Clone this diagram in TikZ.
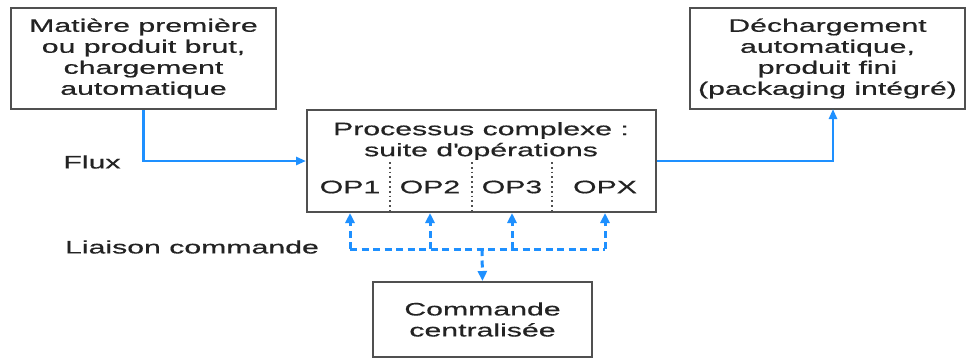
\documentclass[tikz,border=0pt]{standalone}
\usepackage{fontspec}
\setmainfont{Liberation Sans}[FakeStretch=1.68,FakeBold=0.6]
\usetikzlibrary{arrows.meta}
\definecolor{flowblue}{RGB}{30,144,255}
\definecolor{edgegray}{RGB}{80,80,80}
\definecolor{txtgray}{RGB}{35,35,35}
\begin{document}
\begin{tikzpicture}[x=1pt,y=-1pt,
  every node/.style={font=\fontsize{18}{21}\selectfont, text=txtgray},
  box/.style={draw=edgegray, line width=2pt, align=center, inner sep=0pt},
  lbl/.style={inner sep=0pt, align=center},
  flow/.style={draw=flowblue, line width=2.6pt, -{Triangle[length=10pt,width=8pt]}},
  ctrl/.style={draw=flowblue, line width=3pt, dash pattern=on 7pt off 4.5pt},
  ctrlarrow/.style={ctrl, -{Triangle[length=10pt,width=9pt]}},
  divider/.style={draw=edgegray, line width=1.8pt, dash pattern=on 1.8pt off 3pt}]
\useasboundingbox (0,0) rectangle (967,359);
\fill[white] (0,0) rectangle (967,359);
% boxes
\node[box, minimum width=265pt, minimum height=101pt] (src) at (143.5,58.5)
  {Matière première\\ou produit brut,\\chargement\\automatique};
\node[box, minimum width=275pt, minimum height=101pt] (dst) at (827.5,58.5)
  {Déchargement\\automatique,\\produit fini\\(packaging intégré)};
\node[box, minimum width=349pt, minimum height=102pt] (proc) at (481.5,161) {};
\node[box, minimum width=219pt, minimum height=75pt] (cmd) at (482.5,319.5)
  {Commande\\centralisée};
% process contents
\node[lbl] (ptitle) at (481,141) {Processus complexe :\\suite d\textquotesingle opérations};
\node[lbl] (op1) at (350,187) {OP1};
\node[lbl] (op2) at (430,187) {OP2};
\node[lbl] (op3) at (512,187) {OP3};
\node[lbl] (opx) at (605,187) {OPX};
\coordinate (d1) at (390,162);
\coordinate (d2) at (472,162);
\coordinate (d3) at (552,162);
\draw[divider] (d1) -- (d1 |- proc.south);
\draw[divider] (d2) -- (d2 |- proc.south);
\draw[divider] (d3) -- (d3 |- proc.south);
% labels
\node[lbl] (flux) at (92,162) {Flux};
\node[lbl] (liaison) at (192,247) {Liaison commande};
% flow
\draw[flow] (src.south) |- (proc.west);
\coordinate (outx) at (833,109);
\draw[flow] (proc.east) -| (outx);
% control
\coordinate (bus) at (482,249);
\draw[ctrl] (op1.center |- bus) -- (opx.center |- bus);
\draw[ctrlarrow] (op1.center |- bus) -- (op1.center |- proc.south);
\draw[ctrlarrow] (op2.center |- bus) -- (op2.center |- proc.south);
\draw[ctrlarrow] (op3.center |- bus) -- (op3.center |- proc.south);
\draw[ctrlarrow] (opx.center |- bus) -- (opx.center |- proc.south);
\draw[ctrlarrow] (bus) -- (cmd.north);
\end{tikzpicture}
\end{document}
